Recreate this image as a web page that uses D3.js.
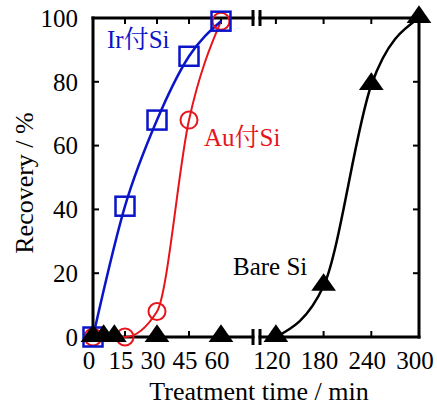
<!DOCTYPE html>
<html>
<head>
<meta charset="utf-8">
<script src="https://cdn.jsdelivr.net/npm/d3@7"></script>
<style>
  body { margin: 0; background: #fff; }
  svg text { font-family: "Liberation Serif", "Noto Serif CJK JP", "Noto Sans CJK JP", serif; }
</style>
</head>
<body>
<svg id="chart" width="437" height="405"></svg>
<script>
// data (time in min, recovery in %)
var irTime = [0, 15, 30, 45, 60];
var irRec = [0, 41, 68, 88, 99];
var auTime = [0, 15, 30, 45, 60];
var auRec = [0, 0, 8, 68, 99];
var bareTimeL = [0, 5, 10, 30, 60];
var bareRecL = [0, 0, 0, 0, 0];
var bareTimeR = [120, 180, 240, 300];
var bareRecR = [0, 16, 79, 100];
var yTicks = [0, 20, 40, 60, 80, 100];
var xTicksL = [0, 15, 30, 45, 60];
var xTicksR = [120, 180, 240, 300];

var svg = d3.select("#chart");
var pTop = 18, pBottom = 337, pLeft = 93, pRight = 419;

var y = d3.scaleLinear().domain([0, 100]).range([pBottom, pTop]);
var xL = d3.scaleLinear().domain([0, 75]).range([pLeft, 253]);
var xR = d3.scaleLinear().domain([100, 300]).range([260, pRight]);

var zip = function(a, b) { return a.map(function(d, i) { return [d, b[i]]; }); };

// axes
var g = svg.append("g");
var axisLines = [
    [pLeft, pTop, pLeft, pBottom],
    [pRight, pTop, pRight, pBottom],
    [pLeft, pBottom, xL.range()[1], pBottom],
    [xR.range()[0], pBottom, pRight, pBottom],
    [pLeft, pTop, xL.range()[1], pTop],
    [xR.range()[0], pTop, pRight, pTop]
];
axisLines.forEach(function(l) {
    g.append("line").attr("x1", l[0]).attr("y1", l[1]).attr("x2", l[2]).attr("y2", l[3])
        .attr("stroke", "#000").attr("stroke-width", 3).attr("stroke-linecap", "square");
});

// break marks
[xL.range()[1], xR.range()[0]].forEach(function(bx) {
    [pTop, pBottom].forEach(function(by) {
        g.append("line").attr("x1", bx).attr("x2", bx).attr("y1", by - 8).attr("y2", by + 8)
            .attr("stroke", "#000").attr("stroke-width", 3);
    });
});

// ticks (inward)
var tl = 6;
yTicks.forEach(function(t) {
    g.append("line").attr("x1", pLeft).attr("x2", pLeft + tl).attr("y1", y(t)).attr("y2", y(t))
        .attr("stroke", "#000").attr("stroke-width", 2);
    g.append("line").attr("x1", pRight).attr("x2", pRight - tl).attr("y1", y(t)).attr("y2", y(t))
        .attr("stroke", "#000").attr("stroke-width", 2);
    g.append("text").attr("x", 78).attr("y", y(t)).attr("dy", "0.35em")
        .attr("text-anchor", "end").attr("font-size", 25).text(t);
});
function xTick(x, t) {
    g.append("line").attr("x1", x).attr("x2", x).attr("y1", pBottom).attr("y2", pBottom - tl)
        .attr("stroke", "#000").attr("stroke-width", 2);
    g.append("line").attr("x1", x).attr("x2", x).attr("y1", pTop).attr("y2", pTop + tl)
        .attr("stroke", "#000").attr("stroke-width", 2);
    g.append("text").attr("x", x - 4).attr("y", 369)
        .attr("text-anchor", "middle").attr("font-size", 25).text(t);
}
xTicksL.forEach(function(t) { xTick(xL(t), t); });
xTicksR.forEach(function(t) { xTick(xR(t), t); });

// axis titles
svg.append("text").attr("x", 259).attr("y", 400).attr("text-anchor", "middle")
    .attr("font-size", 26).text("Treatment time / min");
svg.append("text").attr("transform", "translate(33,183) rotate(-90)").attr("text-anchor", "middle")
    .attr("font-size", 26).text("Recovery / %");

// lines
function curve(x) {
    return d3.line().x(function(d) { return x(d[0]); }).y(function(d) { return y(d[1]); })
        .curve(d3.curveMonotoneX);
}
var red = "#e8141b", blue = "#0a14c8";
svg.append("path").datum(zip(auTime, auRec)).attr("d", curve(xL))
    .attr("fill", "none").attr("stroke", red).attr("stroke-width", 2);
svg.append("path").datum(zip(irTime, irRec)).attr("d", curve(xL))
    .attr("fill", "none").attr("stroke", blue).attr("stroke-width", 2.5);
svg.append("path").datum(zip(bareTimeR, bareRecR)).attr("d", curve(xR))
    .attr("fill", "none").attr("stroke", "#000").attr("stroke-width", 2.5);

// markers
svg.selectAll(".au").data(zip(auTime, auRec)).enter().append("circle")
    .attr("cx", function(d) { return xL(d[0]); }).attr("cy", function(d) { return y(d[1]); })
    .attr("r", 8.5).attr("fill", "none").attr("stroke", red).attr("stroke-width", 2);
svg.selectAll(".ir").data(zip(irTime, irRec)).enter().append("rect")
    .attr("x", function(d) { return xL(d[0]) - 9.5; }).attr("y", function(d) { return y(d[1]) - 9.5; })
    .attr("width", 19).attr("height", 19).attr("fill", "none").attr("stroke", blue).attr("stroke-width", 2.5);

var tri = d3.symbol().type(d3.symbolTriangle).size(200);
var bare = zip(bareTimeL, bareRecL).map(function(d) { return [xL(d[0]), y(d[1])]; })
    .concat(zip(bareTimeR, bareRecR).map(function(d) { return [xR(d[0]), y(d[1])]; }));
svg.selectAll(".bare").data(bare).enter().append("path")
    .attr("transform", function(d) { return "translate(" + d[0] + "," + (d[1] - 1) + ") scale(1.15,0.95)"; })
    .attr("d", tri).attr("fill", "#000");

// series labels
svg.append("text").attr("x", 107).attr("y", 48).attr("font-size", 25).attr("fill", blue).text("Ir付Si");
svg.append("text").attr("x", 204).attr("y", 146).attr("font-size", 25).attr("fill", red).text("Au付Si");
svg.append("text").attr("x", 233).attr("y", 275).attr("font-size", 25).attr("fill", "#000").text("Bare Si");
</script>
</body>
</html>
